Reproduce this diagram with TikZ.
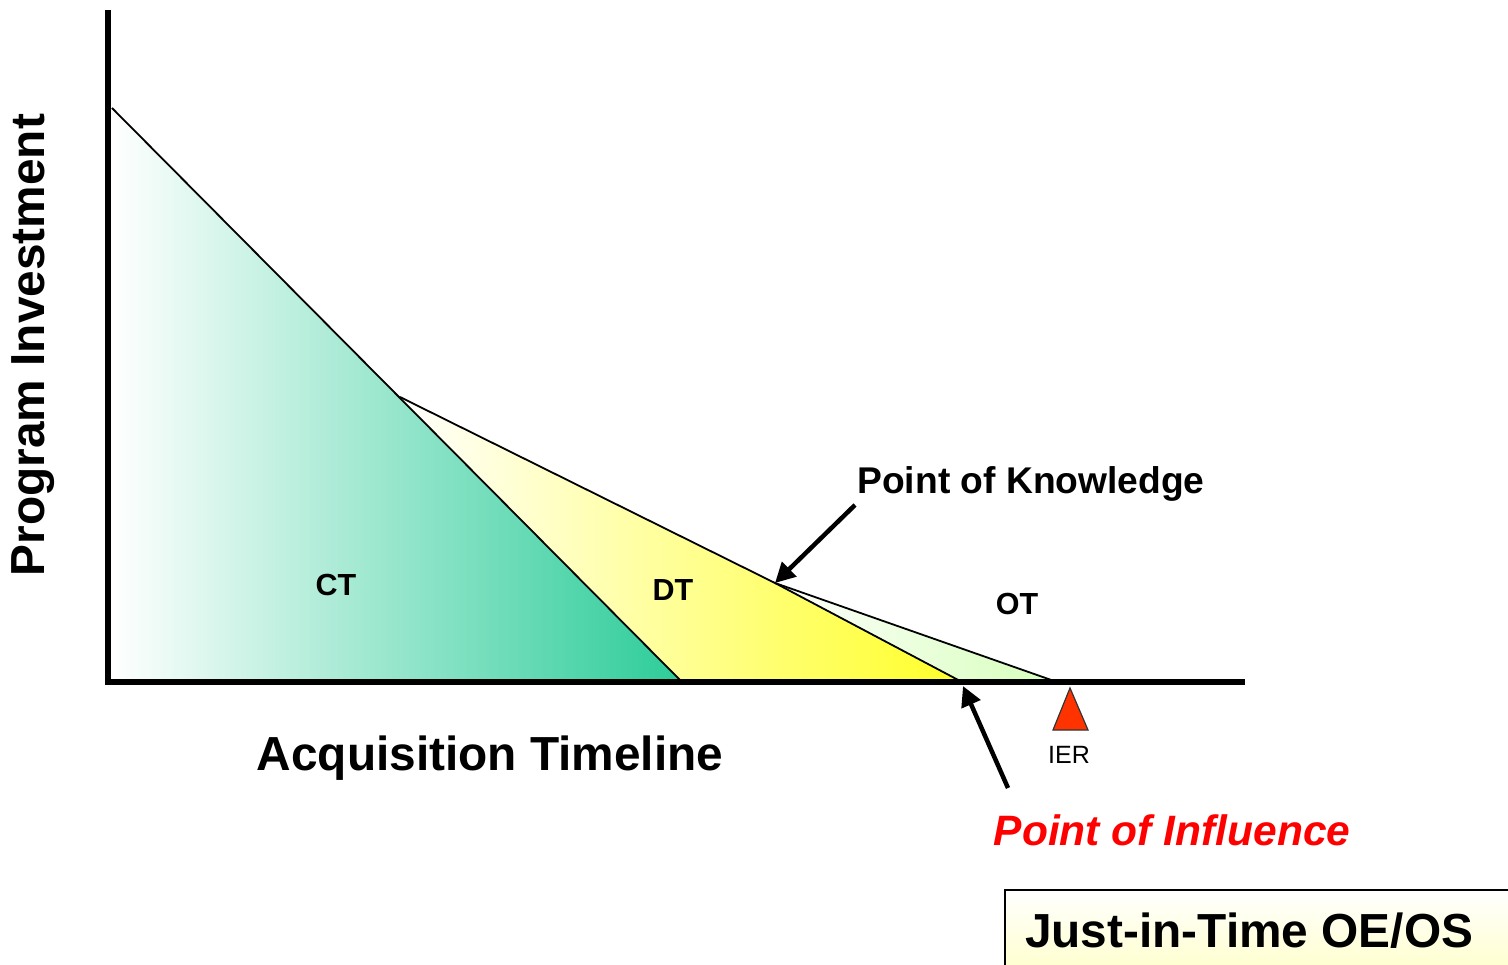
\documentclass[tikz,border=0pt]{standalone}
\usepackage{fontspec}
\setmainfont{Liberation Sans}
\usetikzlibrary{arrows.meta}
\definecolor{ctgreen}{RGB}{44,204,152}
\definecolor{dtyellow}{RGB}{255,255,40}
\definecolor{otgreen}{RGB}{214,255,186}
\definecolor{iered}{RGB}{255,51,0}
\definecolor{boxyellow}{RGB}{255,255,200}
\definecolor{inflred}{RGB}{255,0,0}
\tikzset{
  axis/.style={line width=6pt},
  region/.style={draw=black, line width=1.8pt, line join=round},
  pointer/.style={line width=4.5pt, -{Triangle[length=20pt,width=20pt]}},
  lbl/.style={font=\bfseries\fontsize{30.5}{34}\selectfont, inner sep=0pt},
}
\begin{document}
\begin{tikzpicture}[x=1pt,y=-1pt]
\useasboundingbox (0,0) rectangle (1508,965);
% vertices
\coordinate (O) at (108,682);
\coordinate (Ytop) at (108,10);
\coordinate (Xend) at (1245,682);
\coordinate (A) at (112,108);
\coordinate (B) at (682,682);
\coordinate (C) at (400,397);
\coordinate (K) at (775,583);
\coordinate (I) at (962,682);
\coordinate (E) at (1057,682);
% regions
\shade[left color=white, right color=ctgreen] (A) -- (B) -- (112,682) -- cycle;
\shade[left color=white, right color=dtyellow] (C) -- (K) -- (I) -- (B) -- cycle;
\shade[left color=white, right color=otgreen] (K) -- (E) -- (I) -- cycle;
\draw[region] (A) -- (B);
\draw[region] (C) -- (K) -- (E);
\draw[region] (K) -- (I);
% axes
\draw[axis] (108,682) -- (Ytop);
\draw[axis] (105,682) -- (Xend);
% labels
\node[lbl] (ct) at (336,585) {CT};
\node[lbl] (dt) at (673,590) {DT};
\node[lbl] (ot) at (1017,604) {OT};
\node[font=\bfseries\fontsize{37.2}{42}\selectfont, inner sep=0pt] (pok) at (1031,484) {Point of Knowledge};
\node[font=\bfseries\fontsize{47.8}{52}\selectfont, inner sep=0pt] (xlab) at (490,758) {Acquisition Timeline};
\node[font=\bfseries\fontsize{47.8}{52}\selectfont, inner sep=0pt, rotate=90] (ylab) at (33,345) {Program Investment};
\node[font=\bfseries\itshape\fontsize{42.5}{46}\selectfont, text=inflred, inner sep=0pt] (poi) at (1172,830) {Point of Influence};
% arrows
\coordinate (pokTail) at (855,505);
\coordinate (poiTail) at (1008,788);
\draw[pointer] (pokTail) -- (K);
\draw[pointer] (poiTail) -- (963,686);
% IER marker
\draw[fill=iered, draw=black!80, line width=1.2pt, line join=miter] (1070,688) -- (1088,730) -- (1053,730) -- cycle;
\node[font=\fontsize{25}{28}\selectfont, inner sep=0pt] (ier) at (1069,755) {IER};
% box
\shade[top color=white, bottom color=boxyellow] (1005,890) rectangle (1520,980);
\draw[line width=2pt] (1005,980) -- (1005,890) -- (1520,890);
\node[font=\bfseries\fontsize{47.8}{52}\selectfont, inner sep=0pt, anchor=west] (jit) at (1025,931) {Just-in-Time OE/OS};
\end{tikzpicture}
\end{document}
